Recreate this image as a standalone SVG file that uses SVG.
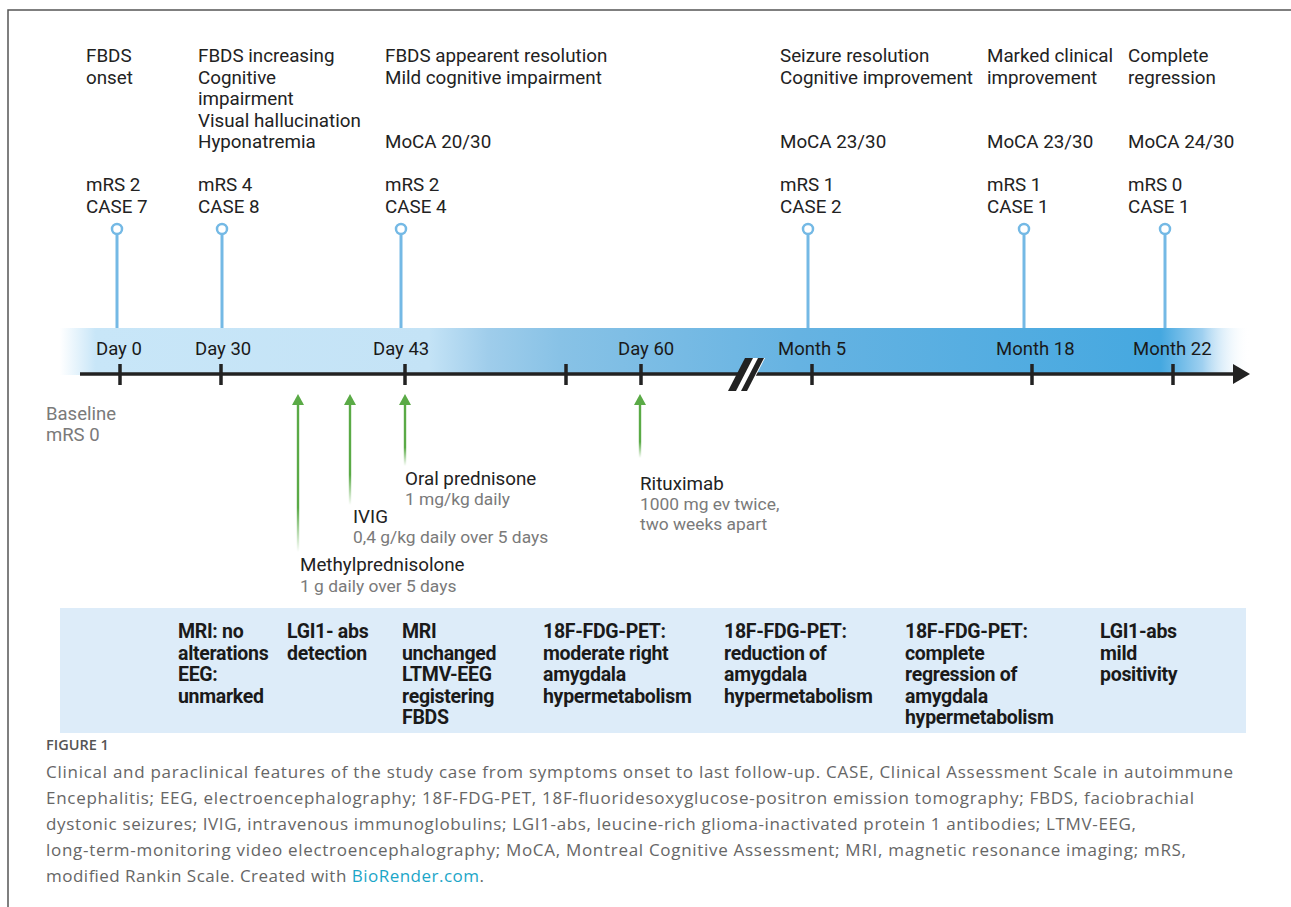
<svg xmlns="http://www.w3.org/2000/svg" width="1291" height="907" viewBox="0 0 1291 907">
<style>
.t{font-family:Roboto,"Liberation Sans",sans-serif;font-size:18.8px;fill:#222}
.d{font-family:Roboto,"Liberation Sans",sans-serif;font-size:18.5px;fill:#1a1a1a}
.g{font-family:Roboto,"Liberation Sans",sans-serif;font-size:17.4px;fill:#7a7a7a}
.b{font-family:Roboto,"Liberation Sans",sans-serif;font-size:19.5px;font-weight:700;fill:#1a1a1a;letter-spacing:-0.3px}
.c{font-family:"Open Sans","Liberation Sans",sans-serif;font-size:17px;font-weight:400;fill:#666}
.stem{stroke:#74b9e5;stroke-width:3;fill:none}
.pin{stroke:#74b9e5;stroke-width:2.5;fill:#fff}
.tick{stroke:#222;stroke-width:3.5}
</style>
<defs>
<linearGradient id="band" gradientUnits="userSpaceOnUse" x1="60" y1="0" x2="1250" y2="0">
<stop offset="0" stop-color="#c8e6f8" stop-opacity="0"/>
<stop offset="0.03" stop-color="#c8e6f8"/>
<stop offset="0.31" stop-color="#c4e3f6"/>
<stop offset="0.36" stop-color="#9fcdeb"/>
<stop offset="0.42" stop-color="#88c2e6"/>
<stop offset="0.62" stop-color="#66b3e2"/>
<stop offset="0.925" stop-color="#45a8e0"/>
<stop offset="0.96" stop-color="#9fd0f0"/>
<stop offset="1" stop-color="#ffffff" stop-opacity="0"/>
</linearGradient>
<linearGradient id="fade" x1="0" y1="0" x2="0" y2="1">
<stop offset="0" stop-color="#5aaa46"/>
<stop offset="0.7" stop-color="#5aaa46"/>
<stop offset="1" stop-color="#5aaa46" stop-opacity="0"/>
</linearGradient>
</defs>

<g id="frame">
<path d="M8 907 V10 H1291" fill="none" stroke="#555" stroke-width="1.5"/>
</g>

<g id="band-axis">
<rect x="60" y="328" width="1190" height="47" fill="url(#band)"/>
<line x1="80" y1="374" x2="1236" y2="374" stroke="#222" stroke-width="3.5"/>
<polygon points="1233,364 1250,374 1233,384" fill="#222"/>
<line class="tick" x1="120" y1="364" x2="120" y2="385"/>
<line class="tick" x1="221" y1="364" x2="221" y2="385"/>
<line class="tick" x1="405" y1="364" x2="405" y2="385"/>
<line class="tick" x1="566" y1="364" x2="566" y2="385"/>
<line class="tick" x1="641" y1="364" x2="641" y2="385"/>
<line class="tick" x1="812" y1="364" x2="812" y2="385"/>
<line class="tick" x1="1032" y1="364" x2="1032" y2="385"/>
<line class="tick" x1="1173" y1="364" x2="1173" y2="385"/>
<polygon points="738,391 755,358 745,358 728,391" fill="#222"/>
<polygon points="748,391 765,358 755,358 738,391" fill="#fff"/>
<polygon points="741,391 758,358 753,358 736,391" fill="#fff"/>
<polygon points="744,391 761,358 767,358 750,391" fill="#222" transform="translate(-3,0)"/>
<text class="d" x="96" y="355">Day 0</text>
<text class="d" x="195" y="355">Day 30</text>
<text class="d" x="373" y="355">Day 43</text>
<text class="d" x="618" y="355">Day 60</text>
<text class="d" x="778" y="355">Month 5</text>
<text class="d" x="996" y="355">Month 18</text>
<text class="d" x="1133" y="355">Month 22</text>
</g>

<g id="baseline">
<text class="g" x="46" y="420" style="font-size:18.5px">Baseline</text>
<text class="g" x="46" y="441" style="font-size:18.5px">mRS 0</text>
</g>

<g id="connectors">
<line class="stem" x1="117" y1="234" x2="117" y2="328"/>
<line class="stem" x1="222" y1="234" x2="222" y2="328"/>
<line class="stem" x1="401" y1="234" x2="401" y2="328"/>
<line class="stem" x1="808" y1="234" x2="808" y2="328"/>
<line class="stem" x1="1024" y1="234" x2="1024" y2="328"/>
<line class="stem" x1="1165" y1="234" x2="1165" y2="328"/>
<circle class="pin" cx="117" cy="229" r="5"/>
<circle class="pin" cx="222" cy="229" r="5"/>
<circle class="pin" cx="401" cy="229" r="5"/>
<circle class="pin" cx="808" cy="229" r="5"/>
<circle class="pin" cx="1024" cy="229" r="5"/>
<circle class="pin" cx="1165" cy="229" r="5"/>
<rect x="296.8" y="404" width="2.4" height="148" fill="url(#fade)"/>
<polygon points="298,394 304,405 292,405" fill="#5aaa46"/>
<rect x="348.8" y="404" width="2.4" height="101" fill="url(#fade)"/>
<polygon points="350,394 356,405 344,405" fill="#5aaa46"/>
<rect x="403.8" y="404" width="2.4" height="62" fill="url(#fade)"/>
<polygon points="405,394 411,405 399,405" fill="#5aaa46"/>
<rect x="638.8" y="404" width="2.4" height="54" fill="url(#fade)"/>
<polygon points="640,394 646,405 634,405" fill="#5aaa46"/>
</g>

<g id="ev-day0">
<text class="t" x="86" y="62">FBDS</text>
<text class="t" x="86" y="83.5">onset</text>
<text class="t" x="86" y="191">mRS 2</text>
<text class="t" x="86" y="212.5">CASE 7</text>
</g>
<g id="ev-day30">
<text class="t" x="198" y="62">FBDS increasing</text>
<text class="t" x="198" y="83.5">Cognitive</text>
<text class="t" x="198" y="105">impairment</text>
<text class="t" x="198" y="126.5">Visual hallucination</text>
<text class="t" x="198" y="148">Hyponatremia</text>
<text class="t" x="198" y="191">mRS 4</text>
<text class="t" x="198" y="212.5">CASE 8</text>
</g>
<g id="ev-day43">
<text class="t" x="385" y="62">FBDS appearent resolution</text>
<text class="t" x="385" y="83.5">Mild cognitive impairment</text>
<text class="t" x="385" y="148">MoCA 20/30</text>
<text class="t" x="385" y="191">mRS 2</text>
<text class="t" x="385" y="212.5">CASE 4</text>
</g>
<g id="ev-month5">
<text class="t" x="780" y="62">Seizure resolution</text>
<text class="t" x="780" y="83.5">Cognitive improvement</text>
<text class="t" x="780" y="148">MoCA 23/30</text>
<text class="t" x="780" y="191">mRS 1</text>
<text class="t" x="780" y="212.5">CASE 2</text>
</g>
<g id="ev-month18">
<text class="t" x="987" y="62">Marked clinical</text>
<text class="t" x="987" y="83.5">improvement</text>
<text class="t" x="987" y="148">MoCA 23/30</text>
<text class="t" x="987" y="191">mRS 1</text>
<text class="t" x="987" y="212.5">CASE 1</text>
</g>
<g id="ev-month22">
<text class="t" x="1128" y="62">Complete</text>
<text class="t" x="1128" y="83.5">regression</text>
<text class="t" x="1128" y="148">MoCA 24/30</text>
<text class="t" x="1128" y="191">mRS 0</text>
<text class="t" x="1128" y="212.5">CASE 1</text>
</g>

<g id="tx-methyl">
<text class="t" x="300" y="571">Methylprednisolone</text>
<text class="g" x="300" y="592">1 g daily over 5 days</text>
</g>
<g id="tx-ivig">
<text class="t" x="353" y="523">IVIG</text>
<text class="g" x="353" y="543">0,4 g/kg daily over 5 days</text>
</g>
<g id="tx-pred">
<text class="t" x="405" y="485">Oral prednisone</text>
<text class="g" x="405" y="505">1 mg/kg daily</text>
</g>
<g id="tx-ritux">
<text class="t" x="640" y="490">Rituximab</text>
<text class="g" x="640" y="510">1000 mg ev twice,</text>
<text class="g" x="640" y="530">two weeks apart</text>
</g>

<g id="findings">
<rect x="60" y="608" width="1186" height="125" fill="#ddecf9"/>
<text class="b" x="178" y="638">MRI: no</text>
<text class="b" x="178" y="659.5">alterations</text>
<text class="b" x="178" y="681">EEG:</text>
<text class="b" x="178" y="702.5">unmarked</text>
<text class="b" x="287" y="638">LGI1- abs</text>
<text class="b" x="287" y="659.5">detection</text>
<text class="b" x="402" y="638">MRI</text>
<text class="b" x="402" y="659.5">unchanged</text>
<text class="b" x="402" y="681">LTMV-EEG</text>
<text class="b" x="402" y="702.5">registering</text>
<text class="b" x="402" y="724">FBDS</text>
<text class="b" x="543" y="638">18F-FDG-PET:</text>
<text class="b" x="543" y="659.5">moderate right</text>
<text class="b" x="543" y="681">amygdala</text>
<text class="b" x="543" y="702.5">hypermetabolism</text>
<text class="b" x="724" y="638">18F-FDG-PET:</text>
<text class="b" x="724" y="659.5">reduction of</text>
<text class="b" x="724" y="681">amygdala</text>
<text class="b" x="724" y="702.5">hypermetabolism</text>
<text class="b" x="905" y="638">18F-FDG-PET:</text>
<text class="b" x="905" y="659.5">complete</text>
<text class="b" x="905" y="681">regression of</text>
<text class="b" x="905" y="702.5">amygdala</text>
<text class="b" x="905" y="724">hypermetabolism</text>
<text class="b" x="1100" y="638">LGI1-abs</text>
<text class="b" x="1100" y="659.5">mild</text>
<text class="b" x="1100" y="681">positivity</text>
</g>

<g id="caption">
<text x="46" y="750" style="font-family:'Open Sans','Liberation Sans',sans-serif;font-size:14.5px;font-weight:600;fill:#555">FIGURE 1</text>
<text class="c" x="46" y="778" textLength="1187" lengthAdjust="spacing">Clinical and paraclinical features of the study case from symptoms onset to last follow-up. CASE, Clinical Assessment Scale in autoimmune</text>
<text class="c" x="46" y="804" textLength="1148" lengthAdjust="spacing">Encephalitis; EEG, electroencephalography; 18F-FDG-PET, 18F-fluoridesoxyglucose-positron emission tomography; FBDS, faciobrachial</text>
<text class="c" x="46" y="830" textLength="1090" lengthAdjust="spacing">dystonic seizures; IVIG, intravenous immunoglobulins; LGI1-abs, leucine-rich glioma-inactivated protein 1 antibodies; LTMV-EEG,</text>
<text class="c" x="46" y="856" textLength="1140" lengthAdjust="spacing">long-term-monitoring video electroencephalography; MoCA, Montreal Cognitive Assessment; MRI, magnetic resonance imaging; mRS,</text>
<text class="c" x="46" y="882" textLength="438" lengthAdjust="spacing">modified Rankin Scale. Created with <tspan fill="#1ba6c8">BioRender.com</tspan>.</text>
</g>
</svg>
